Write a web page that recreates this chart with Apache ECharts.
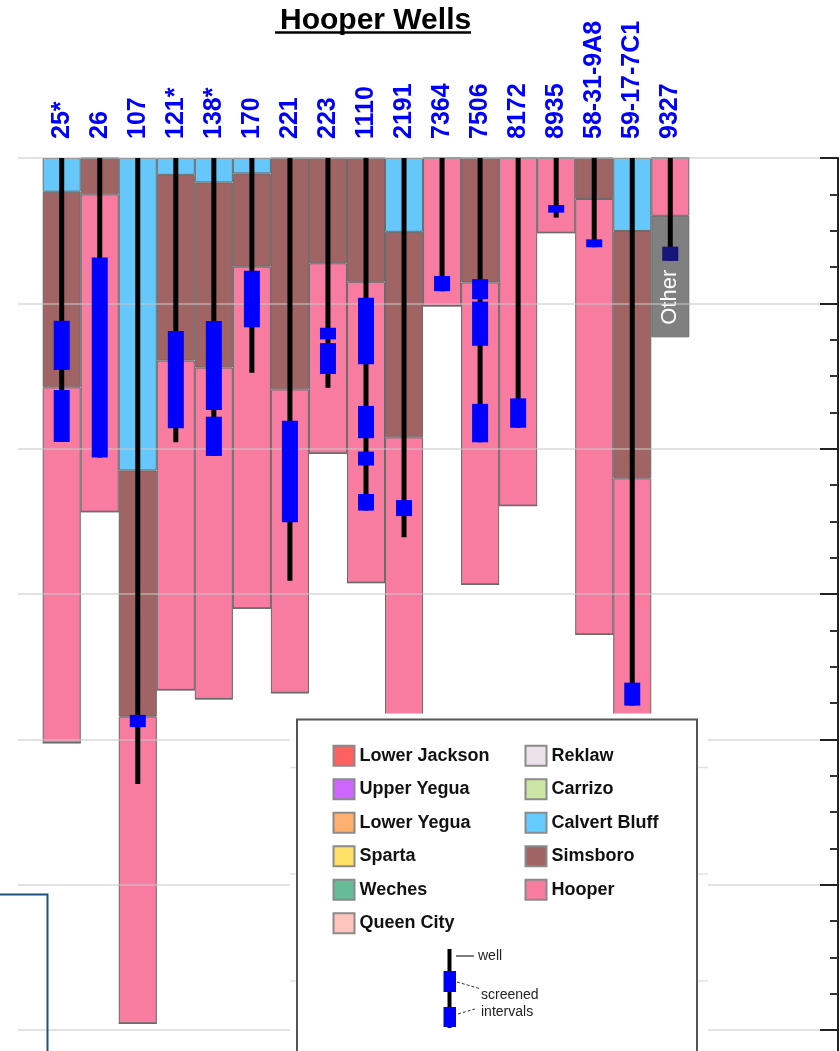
<!DOCTYPE html>
<html>
<head>
<meta charset="utf-8">
<title>Hooper Wells</title>
<script src="https://cdn.jsdelivr.net/npm/echarts@6/dist/echarts.min.js"></script>
<style>
html,body{margin:0;padding:0;background:#fff;}
#main{width:840px;height:1051px;}
</style>
</head>
<body>
<div id="main"></div>
<script>
// well names along the top
var wells = ['25*', '26', '107', '121*', '138*', '170', '221', '223', '1110', '2191',
             '7364', '7506', '8172', '8935', '58-31-9A8', '59-17-7C1', '9327'];

// base depth (ft) of each formation in each well, 0 = not present
var calvertBase  = [116, 0, 1075, 58, 84, 53, 0, 0, 0, 254, 0, 0, 0, 0, 0, 251, 0];
var simsboroBase = [789, 125, 1922, 697, 721, 374, 796, 362, 426, 961, 0, 428, 0, 0, 141, 1102, 0];
var hooperBase   = [2012, 1217, 2977, 1830, 1861, 1549, 1840, 1016, 1461, 2100, 509, 1467, 1196, 257, 1639, 2100, 199];
var otherBase    = [0, 0, 0, 0, 0, 0, 0, 0, 0, 0, 0, 0, 0, 0, 0, 0, 617];

// total depth of each well
var wellDepth = [977, 1030, 2154, 978, 1025, 739, 1454, 790, 1213, 1305, 458, 978, 928, 205, 307, 1884, 354];

// screened intervals: [well index, top, bottom]
var screens = [
  [0, 560, 729], [0, 798, 977], [1, 342, 1030], [2, 1916, 1958], [3, 595, 930],
  [4, 561, 867], [4, 890, 1025], [5, 388, 582], [6, 904, 1253], [7, 584, 624],
  [7, 637, 743], [8, 481, 710], [8, 853, 964], [8, 1010, 1058], [8, 1156, 1213],
  [9, 1177, 1232], [10, 406, 458], [11, 417, 486], [11, 494, 646], [11, 846, 978],
  [12, 827, 928], [13, 162, 188], [14, 280, 307], [15, 1805, 1884], [16, 305, 354]
];

// depth axis
var depthMin = 0, depthMax = 3000, depthStep = 500;

// legend entries
var legendLeftNames  = ['Lower Jackson', 'Upper Yegua', 'Lower Yegua', 'Sparta', 'Weches', 'Queen City'];
var legendLeftColors = ['#ff6060', '#cc66ff', '#ffb070', '#ffe066', '#66bb99', '#ffc4bc'];
var legendRightNames  = ['Reklaw', 'Carrizo', 'Calvert Bluff', 'Simsboro', 'Hooper'];
var legendRightColors = ['#ece2ea', '#cce6a6', '#66ccff', '#a06464', '#f77ca0'];

var FONT = 'Liberation Sans, Arial, sans-serif';

// turn base depths into stacked thicknesses
var prevBase = wells.map(function () { return 0; });
function thick(bases) {
  return bases.map(function (b, i) {
    if (!b) return 0;
    var t = b - prevBase[i];
    prevBase[i] = b;
    return t;
  });
}
var calvertT = thick(calvertBase);
var simsboroT = thick(simsboroBase);
var hooperT = thick(hooperBase);
var otherT = thick(otherBase);

var barBorder = {borderColor: '#6a6a6a', borderWidth: 1};
function layer(name, data, color) {
  return {
    name: name, type: 'bar', stack: 'f', xAxisIndex: 0, yAxisIndex: 0,
    barCategoryGap: '0%', data: data, z: 2,
    itemStyle: Object.assign({color: color}, barBorder)
  };
}

var otherData = otherT.map(function (v, i) {
  if (i !== 16) return v;
  return {
    value: v,
    label: {
      show: true, formatter: 'Other', rotate: 90, color: '#fff', fontSize: 22,
      fontFamily: FONT, position: ['50%', '67%'], align: 'center', verticalAlign: 'middle'
    }
  };
});

var g = [];
// white patch behind legend
g.push({type: 'rect', shape: {x: 290, y: 713.5, width: 418, height: 340}, style: {fill: '#fff'}, z: 100});
[767.5, 874, 981].forEach(function (y) {
  g.push({type: 'line', shape: {x1: 290, y1: y, x2: 296, y2: y}, style: {stroke: '#e2e2e2', lineWidth: 1.5}, z: 101});
  g.push({type: 'line', shape: {x1: 698, y1: y, x2: 708, y2: y}, style: {stroke: '#e2e2e2', lineWidth: 1.5}, z: 101});
});
g.push({type: 'rect', shape: {x: 297, y: 719.5, width: 400, height: 340}, style: {fill: '#fff', stroke: '#555', lineWidth: 2}, z: 101});
function legendCol(names, colors, x) {
  names.forEach(function (n, i) {
    var cy = 755.7 + i * 33.5;
    g.push({type: 'rect', shape: {x: x, y: cy - 10, width: 21, height: 20},
      style: {fill: colors[i], stroke: '#8a8a8a', lineWidth: 2}, z: 102});
    g.push({type: 'text', x: x + 26, y: cy, z: 102,
      style: {text: n, fill: '#111', font: 'bold 18px ' + FONT, textVerticalAlign: 'middle'}});
  });
}
legendCol(legendLeftNames, legendLeftColors, 333.5);
legendCol(legendRightNames, legendRightColors, 525.5);
// well symbol in legend
g.push({type: 'line', shape: {x1: 449.5, y1: 949, x2: 449.5, y2: 1028}, style: {stroke: '#000', lineWidth: 4}, z: 102});
g.push({type: 'rect', shape: {x: 443.5, y: 971, width: 12.5, height: 21}, style: {fill: '#0000ff'}, z: 103});
g.push({type: 'rect', shape: {x: 443.5, y: 1007, width: 12.5, height: 20}, style: {fill: '#0000ff'}, z: 103});
g.push({type: 'line', shape: {x1: 456, y1: 956, x2: 474, y2: 956}, style: {stroke: '#000', lineWidth: 1}, z: 102});
g.push({type: 'line', shape: {x1: 457, y1: 982, x2: 481, y2: 989}, style: {stroke: '#333', lineWidth: 1, lineDash: [3, 2]}, z: 102});
g.push({type: 'line', shape: {x1: 458, y1: 1014, x2: 475, y2: 1009}, style: {stroke: '#333', lineWidth: 1, lineDash: [3, 2]}, z: 102});
g.push({type: 'text', x: 478, y: 956, z: 102, style: {text: 'well', fill: '#222', font: '14px ' + FONT, textVerticalAlign: 'middle'}});
g.push({type: 'text', x: 481, y: 995, z: 102, style: {text: 'screened', fill: '#222', font: '14px ' + FONT, textVerticalAlign: 'middle'}});
g.push({type: 'text', x: 481, y: 1012, z: 102, style: {text: 'intervals', fill: '#222', font: '14px ' + FONT, textVerticalAlign: 'middle'}});
// title underline
g.push({type: 'line', shape: {x1: 275, y1: 32.5, x2: 471, y2: 32.5}, style: {stroke: '#000', lineWidth: 2.5}, z: 100});
// axis line continues past the last tick
g.push({type: 'line', shape: {x1: 838, y1: 1030, x2: 838, y2: 1051}, style: {stroke: '#222', lineWidth: 2}, z: 100});
// frame corner at lower left
g.push({type: 'polyline', shape: {points: [[0, 894.5], [47.5, 894.5], [47.5, 1051]]}, style: {stroke: '#1f4f7f', lineWidth: 2, fill: null}, z: 100});

var myChart = echarts.init(document.getElementById('main'), null, {renderer: 'canvas'});
var option = {
  backgroundColor: '#fff',
  animation: false,
  title: {
    text: 'Hooper Wells', left: 275, top: 1,
    textStyle: {fontFamily: FONT, fontSize: 30, fontWeight: 'bold', color: '#000'}
  },
  grid: [
    {left: 42.7, right: 150.7, top: 158, bottom: 21},
    {left: 18, right: 2, top: 158, bottom: 21}
  ],
  xAxis: [
    {
      gridIndex: 0, type: 'category', position: 'top', data: wells, boundaryGap: true,
      axisLine: {show: false}, axisTick: {show: false}, splitLine: {show: false},
      axisLabel: {
        interval: 0, rotate: 90, margin: 19, color: '#0000ff', fontWeight: 'bold',
        fontSize: 25, fontFamily: FONT, hideOverlap: false
      }
    },
    {gridIndex: 1, type: 'value', show: false}
  ],
  yAxis: [
    {gridIndex: 0, type: 'value', inverse: true, min: depthMin, max: depthMax, show: false},
    {
      gridIndex: 1, type: 'value', inverse: true, position: 'right', z: 3,
      min: depthMin, max: depthMax, interval: depthStep,
      axisLine: {show: true, onZero: false, lineStyle: {color: '#222', width: 2}},
      axisTick: {show: true, inside: true, length: 18, lineStyle: {color: '#222', width: 2}},
      minorTick: {show: true, splitNumber: 4, length: 8, lineStyle: {color: '#333', width: 2}},
      axisLabel: {show: false},
      splitLine: {show: true, lineStyle: {color: 'rgba(200,200,200,0.7)', width: 1.5}}
    }
  ],
  series: [
    layer('Calvert Bluff', calvertT, '#66c8fa'),
    layer('Simsboro', simsboroT, '#a06464'),
    layer('Hooper', hooperT, '#f77ca0'),
    layer('Other', otherData, '#808080'),
    {
      name: 'well', type: 'custom', xAxisIndex: 0, yAxisIndex: 0, z: 5,
      data: wellDepth.map(function (d, i) { return [i, d]; }),
      encode: {x: 0, y: 1},
      renderItem: function (params, api) {
        var a = api.coord([api.value(0), depthMin]);
        var b = api.coord([api.value(0), api.value(1)]);
        return {type: 'line', shape: {x1: a[0], y1: a[1], x2: b[0], y2: b[1]},
          style: {stroke: '#000', lineWidth: 5}};
      }
    },
    {
      name: 'screen', type: 'custom', xAxisIndex: 0, yAxisIndex: 0, z: 6,
      data: screens,
      encode: {x: 0, y: [1, 2]},
      renderItem: function (params, api) {
        var a = api.coord([api.value(0), api.value(1)]);
        var b = api.coord([api.value(0), api.value(2)]);
        return {type: 'rect', shape: {x: a[0] - 8, y: a[1], width: 16, height: b[1] - a[1]},
          style: {fill: api.value(0) === 16 ? '#16167a' : '#0000ff'}};
      }
    }
  ],
  graphic: g
};
myChart.setOption(option);
</script>
</body>
</html>
